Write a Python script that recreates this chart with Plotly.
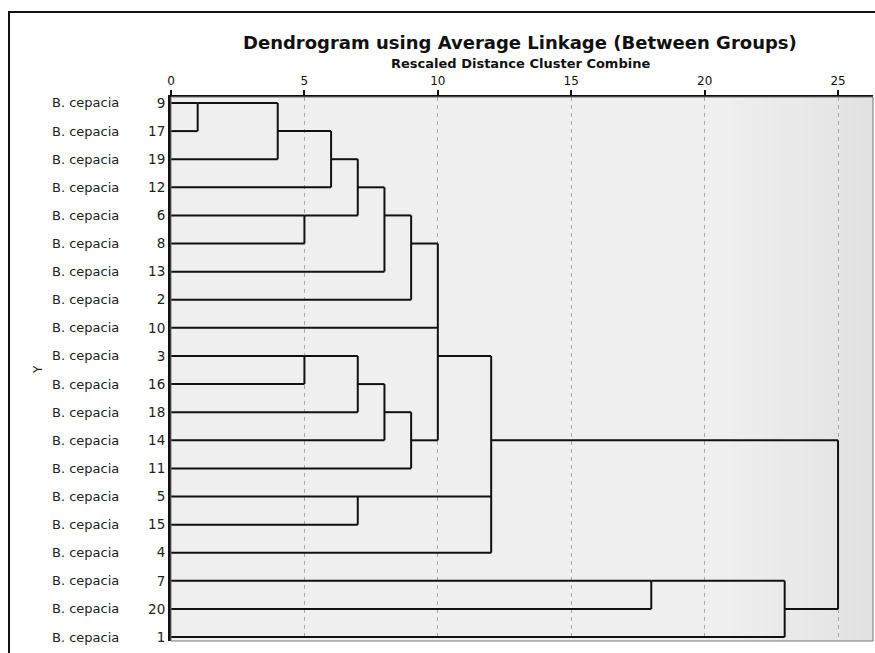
import plotly.graph_objects as go

# ---------------- data ----------------
leaf_ids = [9, 17, 19, 12, 6, 8, 13, 2, 10, 3, 16, 18, 14, 11, 5, 15, 4, 7, 20, 1]
leaf_names = ["B. cepacia"] * 20

# merges: children ("L#" = leaf row, "C#" = earlier cluster), rescaled distance, row of outgoing line
merge_children = [
    ["L0", "L1"], ["C0", "L2"], ["C1", "L3"], ["L4", "L5"], ["C2", "C3"],
    ["C4", "L6"], ["C5", "L7"], ["L9", "L10"], ["C7", "L11"], ["C8", "L12"],
    ["C9", "L13"], ["C6", "L8", "C10"], ["L14", "L15"], ["C11", "C12", "L16"],
    ["L17", "L18"], ["C14", "L19"], ["C13", "C15"],
]
merge_dist = [1, 4, 6, 5, 7, 8, 9, 5, 7, 8, 9, 10, 7, 12, 18, 23, 25]
merge_out_row = [0, 1, 2, 4, 3, 4, 5, 9, 10, 11, 12, 9, 14, 12, 17, 18, None]

x_ticks = [0, 5, 10, 15, 20, 25]

# ---------------- build segments ----------------
xs, ys = [], []
for i, children in enumerate(merge_children):
    d = merge_dist[i]
    rows = []
    for c in children:
        k = int(c[1:])
        if c[0] == "L":
            start, row = 0, k
        else:
            start, row = merge_dist[k], merge_out_row[k]
        rows.append(row)
        xs += [start, d, None]
        ys += [row, row, None]
    xs += [d, d, None]
    ys += [min(rows), max(rows), None]

fig = go.Figure()
fig.add_trace(go.Scatter(x=xs, y=ys, mode="lines",
                         line=dict(color="#111111", width=2),
                         hoverinfo="skip", showlegend=False))

# ---------------- layout ----------------
shapes = []
# subtle gradient toward right edge of plotting area
n_bands = 14
for i in range(n_bands):
    v = 0xef - int(round((0xef - 0xe2) * (i + 1) / n_bands))
    col = "#%02x%02x%02x" % (v, v, v)
    shapes.append(dict(type="rect", xref="paper", yref="paper",
                       x0=0.80 + i * 0.20 / n_bands, x1=1.0,
                       y0=0, y1=1, fillcolor=col, line=dict(width=0), layer="below"))
# plot-area border (thin grey)
shapes.append(dict(type="rect", xref="paper", yref="paper", x0=0, x1=1, y0=0, y1=1,
                   line=dict(color="#777777", width=1), layer="above"))
# outer frame
shapes.append(dict(type="rect", xref="paper", yref="paper",
                   x0=(9 - 171) / 702, x1=(900 - 171) / 702,
                   y0=(641 - 680) / 544, y1=(641 - 12) / 544,
                   line=dict(color="#111111", width=2)))

annotations = []
for r, name in enumerate(leaf_names):
    annotations.append(dict(x=(121 - 171) / 702, y=r, xref="paper", yref="y",
                            text=name, showarrow=False, xanchor="right", yanchor="middle",
                            font=dict(family="DejaVu Sans", size=13, color="#222222")))
annotations.append(dict(x=(38 - 171) / 702, y=9.5, xref="paper", yref="y", text="Y",
                        textangle=-90, showarrow=False, xanchor="center", yanchor="middle",
                        font=dict(family="DejaVu Sans", size=12, color="#222222")))
annotations.append(dict(x=(520 - 171) / 702, y=(641 - 42) / 544, xref="paper", yref="paper",
                        text="<b>Dendrogram using Average Linkage (Between Groups)</b>",
                        showarrow=False, xanchor="center", yanchor="middle",
                        font=dict(family="DejaVu Sans", size=18, color="#111111")))
annotations.append(dict(x=(520 - 171) / 702, y=(641 - 63) / 544, xref="paper", yref="paper",
                        text="<b>Rescaled Distance Cluster Combine</b>",
                        showarrow=False, xanchor="center", yanchor="middle",
                        font=dict(family="DejaVu Sans", size=13, color="#111111")))

fig.update_layout(
    width=875, height=653,
    margin=dict(l=171, r=2, t=97, b=12),
    paper_bgcolor="white", plot_bgcolor="#efefef",
    shapes=shapes, annotations=annotations,
    xaxis=dict(side="top", range=[0, 26.31], tickvals=x_ticks,
               ticktext=[str(t) for t in x_ticks],
               ticks="outside", ticklen=5, tickwidth=2, tickcolor="#111111",
               showline=True, linewidth=2, linecolor="#111111",
               showgrid=True, gridcolor="#a8a8a8", gridwidth=1, griddash="4px,4px",
               zeroline=False,
               tickfont=dict(family="DejaVu Sans", size=12, color="#111111")),
    yaxis=dict(range=[19.14, -0.213], tickvals=list(range(len(leaf_ids))),
               ticktext=[str(v) for v in leaf_ids],
               ticks="", showline=True, linewidth=3, linecolor="#111111",
               showgrid=False, zeroline=False,
               tickfont=dict(family="DejaVu Sans", size=13.5, color="#222222")),
)

fig.write_html("out.html", config={"displayModeBar": False},
               post_script="document.body.style.margin='0';document.body.style.overflow='hidden';")
